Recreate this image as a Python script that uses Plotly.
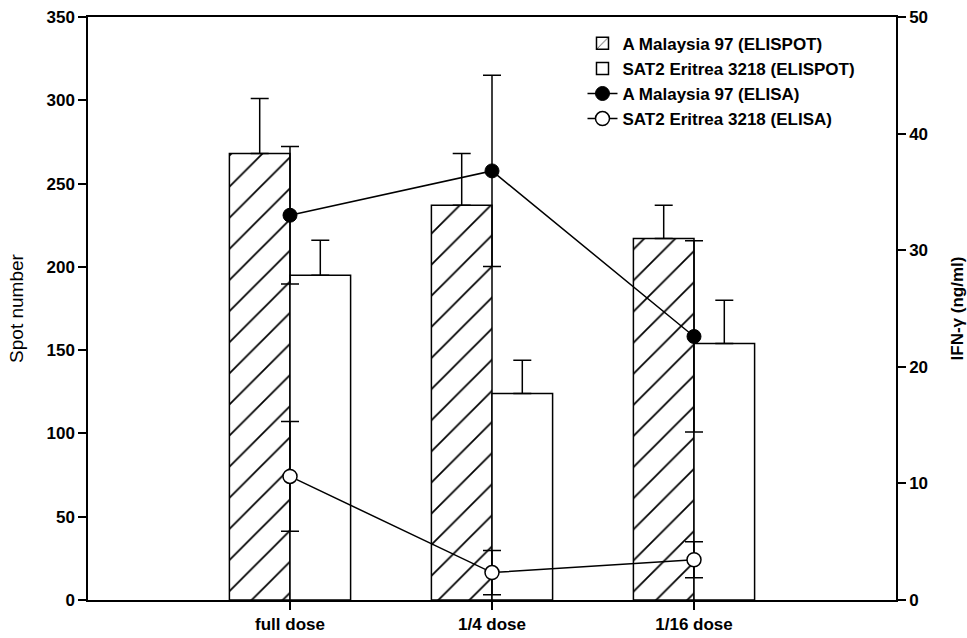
import plotly.graph_objects as go

categories = ["full dose", "1/4 dose", "1/16 dose"]
x_pos = [0, 1, 2]

# ELISPOT spot numbers (left axis)
malaysia_spot = [268, 237, 217]
malaysia_spot_err = [33, 31, 20]
eritrea_spot = [195, 124, 154]
eritrea_spot_err = [21, 20, 26]

# ELISA IFN-gamma (right axis)
malaysia_ifn = [33.0, 36.8, 22.6]
malaysia_ifn_err = [5.9, 8.2, 8.2]
eritrea_ifn = [10.6, 2.35, 3.45]
eritrea_ifn_err = [4.7, 1.9, 1.55]

left_ticks = [0, 50, 100, 150, 200, 250, 300, 350]
right_ticks = [0, 10, 20, 30, 40, 50]

FONT = "Liberation Sans, Arial, sans-serif"
LW = 1.5

fig = go.Figure()
fig.add_trace(go.Bar(
    x=x_pos, y=malaysia_spot, name="<b>A Malaysia 97 (ELISPOT)</b>",
    marker=dict(color="white", line=dict(color="black", width=LW),
                pattern=dict(shape="/", size=22, solidity=0.08, fgcolor="black",
                             bgcolor="white", fgopacity=1)),
    error_y=dict(type="data", array=malaysia_spot_err, arrayminus=[0, 0, 0],
                 color="black", thickness=LW, width=9),
))
fig.add_trace(go.Bar(
    x=x_pos, y=eritrea_spot, name="<b>SAT2 Eritrea 3218 (ELISPOT)</b>",
    marker=dict(color="white", line=dict(color="black", width=LW)),
    error_y=dict(type="data", array=eritrea_spot_err, arrayminus=[0, 0, 0],
                 color="black", thickness=LW, width=9),
))
fig.add_trace(go.Scatter(
    x=x_pos, y=malaysia_ifn, name="<b>A Malaysia 97 (ELISA)</b>", yaxis="y2",
    mode="lines+markers",
    line=dict(color="black", width=LW),
    marker=dict(color="black", size=14, line=dict(color="black", width=1)),
    error_y=dict(type="data", array=malaysia_ifn_err, color="black", thickness=LW, width=9),
))
fig.add_trace(go.Scatter(
    x=x_pos, y=eritrea_ifn, name="<b>SAT2 Eritrea 3218 (ELISA)</b>", yaxis="y2",
    mode="lines+markers",
    line=dict(color="black", width=LW),
    marker=dict(color="white", size=14, line=dict(color="black", width=1.5)),
    error_y=dict(type="data", array=eritrea_ifn_err, color="black", thickness=LW, width=9),
))

tickfont = dict(family=FONT, size=17, color="black")

fig.update_layout(
    width=967, height=638,
    margin=dict(l=88, r=71, t=17, b=38),
    plot_bgcolor="white", paper_bgcolor="white",
    barmode="group", bargap=0.4, bargroupgap=0,
    font=dict(family=FONT, size=17, color="black"),
    showlegend=True,
    legend=dict(x=0.612, y=0.985, xanchor="left", yanchor="top",
                bgcolor="rgba(0,0,0,0)", font=dict(size=17, family=FONT),
                tracegroupgap=0),
    xaxis=dict(range=[-1, 3], tickmode="array", tickvals=x_pos,
               ticktext=["<b>%s</b>" % c for c in categories],
               tickfont=tickfont, automargin=False,
               showline=True, linecolor="black", linewidth=LW, mirror=True,
               ticks="outside", ticklen=8, tickwidth=LW, tickcolor="black",
               showgrid=False, zeroline=False),
    yaxis=dict(range=[0, 350], tickmode="array", tickvals=left_ticks,
               ticktext=["<b>%d</b>" % t for t in left_ticks],
               tickfont=tickfont, automargin=False,
               showline=True, linecolor="black", linewidth=LW,
               ticks="outside", ticklen=8, tickwidth=LW, tickcolor="black",
               showgrid=False, zeroline=False,
               title=dict(text="Spot number", font=dict(family=FONT, size=19, color="black"),
                          standoff=18)),
    yaxis2=dict(range=[0, 50], overlaying="y", side="right", tickmode="array",
                tickvals=right_ticks, ticktext=["<b>%d</b>" % t for t in right_ticks],
                tickfont=tickfont, automargin=False,
                showline=True, linecolor="black", linewidth=LW,
                ticks="outside", ticklen=8, tickwidth=LW, tickcolor="black",
                showgrid=False, zeroline=False,
                title=dict(text="<b>IFN-γ (ng/ml)</b>", font=dict(family=FONT, size=17, color="black"),
                           standoff=26)),
)

fig.write_html("out.html", config={"displayModeBar": False},
               post_script="document.body.style.margin='0';document.body.style.overflow='hidden';")
